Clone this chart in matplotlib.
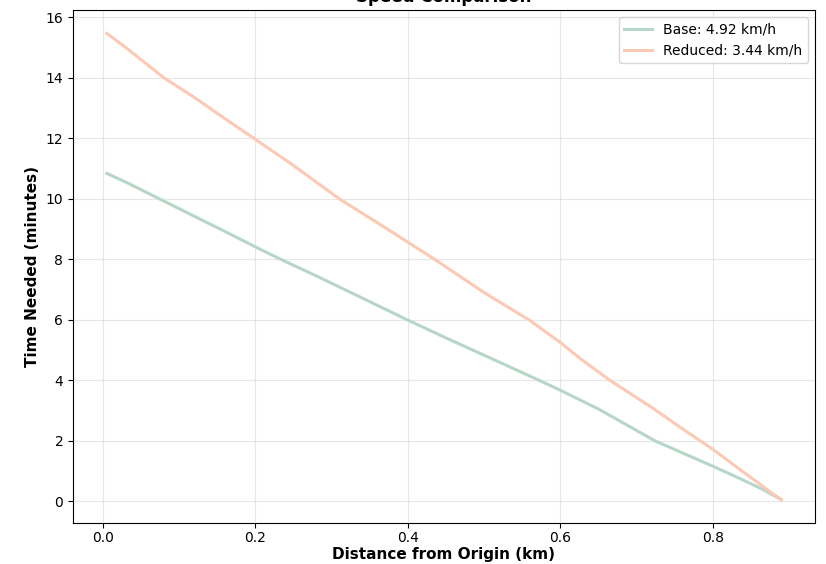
import matplotlib
matplotlib.use('Agg')
import matplotlib.pyplot as plt

# Valores (distância em km, tempo em minutos)
dist_base = [0.005, 0.03, 0.074, 0.12, 0.16, 0.2, 0.233, 0.28, 0.34, 0.399, 0.45,
             0.506, 0.572, 0.6, 0.65, 0.724, 0.76, 0.8, 0.833, 0.865, 0.89]
tempo_base = [10.84, 10.55, 10.0, 9.42, 8.92, 8.41, 8.0, 7.45, 6.72, 6.0, 5.4,
              4.76, 4.0, 3.67, 3.05, 2.0, 1.6, 1.16, 0.78, 0.4, 0.05]

dist_reduzida = [0.005, 0.03, 0.05, 0.08, 0.12, 0.16, 0.198, 0.25, 0.31, 0.37, 0.435,
                 0.5, 0.56, 0.6, 0.626, 0.665, 0.72, 0.76, 0.8, 0.833, 0.86, 0.875, 0.89]
tempo_reduzida = [15.47, 15.0, 14.6, 14.0, 13.35, 12.65, 12.0, 11.1, 10.0, 9.05, 8.0,
                  6.9, 5.98, 5.25, 4.72, 4.0, 3.1, 2.4, 1.72, 1.1, 0.6, 0.32, 0.05]

rotulo_base = 'Base: 4.92 km/h'
rotulo_reduzida = 'Reduced: 3.44 km/h'


def plotar_grafico():
    fig, ax = plt.subplots(figsize=(8.26, 5.64), dpi=100)
    fig.subplots_adjust(left=73 / 826, right=815 / 826, top=1 - 10 / 564, bottom=1 - 523 / 564)

    ax.plot(dist_base, tempo_base, color='#b6d7c7', linewidth=2.2, label=rotulo_base)
    ax.plot(dist_reduzida, tempo_reduzida, color='#fcc9b5', linewidth=2.2, label=rotulo_reduzida)

    ax.set_title('Speed Comparison', fontsize=12, fontweight='bold')
    ax.set_xlabel('Distance from Origin (km)', fontsize=11, fontweight='bold', labelpad=1)
    ax.set_ylabel('Time Needed (minutes)', fontsize=11, fontweight='bold')
    ax.set_yticks([0, 2, 4, 6, 8, 10, 12, 14, 16])
    ax.tick_params(axis='x', pad=2.5)
    ax.grid(True, alpha=0.3)
    ax.legend(loc='upper right', fontsize=10)

    fig.savefig('out.png', dpi=100)


if __name__ == "__main__":
    plotar_grafico()
